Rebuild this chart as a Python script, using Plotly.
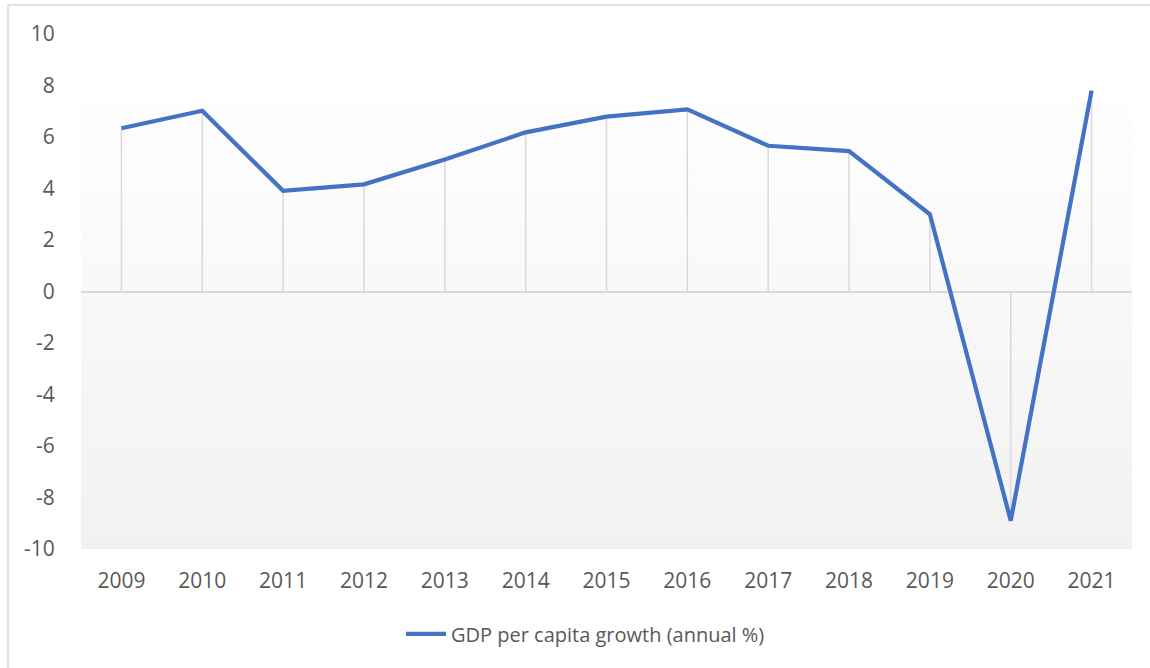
import plotly.graph_objects as go

# GDP per capita growth (annual %)
years = [2009, 2010, 2011, 2012, 2013, 2014, 2015, 2016, 2017, 2018, 2019, 2020, 2021]
growth = [6.34, 7.02, 3.91, 4.16, 5.13, 6.18, 6.79, 7.07, 5.66, 5.45, 3.00, -8.90, 7.80]
y_ticks = [10, 8, 6, 4, 2, 0, -2, -4, -6, -8, -10]
series_name = "GDP per capita growth (annual %)"

LINE_BLUE = "#4472C4"
GRID_GRAY = "#d9d9d9"
TEXT_GRAY = "#595959"
FONT = "Open Sans"

fig = go.Figure()

# vertical drop lines from each point down to zero
drop_x, drop_y = [], []
for yr, v in zip(years, growth):
    drop_x += [yr, yr, None]
    drop_y += [0, v, None]
fig.add_trace(go.Scatter(
    x=drop_x, y=drop_y, mode="lines",
    line=dict(color=GRID_GRAY, width=1.5),
    hoverinfo="skip", showlegend=False,
))

fig.add_trace(go.Scatter(
    x=years, y=growth, mode="lines", name=series_name,
    line=dict(color=LINE_BLUE, width=4.2, shape="linear"),
))

# soft vertical gradient behind the series
shapes = []
top, bottom = 7.37, -10.0
n = 60
c_top, c_bot = 254, 241
for i in range(n):
    y1 = top - (top - bottom) * i / n
    y0 = top - (top - bottom) * (i + 1) / n
    c = round(c_top + (c_bot - c_top) * (i + 0.5) / n)
    shapes.append(dict(
        type="rect", xref="paper", yref="y", x0=0, x1=1, y0=y0, y1=y1,
        fillcolor=f"rgb({c},{c},{c})", line=dict(width=0), layer="below",
    ))

# chart outline
shapes.append(dict(
    type="rect", xref="paper", yref="paper",
    x0=-0.0695, x1=1.2, y0=-0.4, y1=1.0563,
    line=dict(color=GRID_GRAY, width=1.5), fillcolor="rgba(0,0,0,0)", layer="above",
))

fig.update_layout(
    width=1150, height=668,
    margin=dict(l=81, r=18, t=34, b=119),
    paper_bgcolor="white", plot_bgcolor="white",
    font=dict(family=FONT, size=21, color=TEXT_GRAY),
    shapes=shapes,
    showlegend=True,
    legend=dict(
        orientation="h", x=0.48, xanchor="center", y=-0.165, yanchor="middle",
        font=dict(family=FONT, size=20, color=TEXT_GRAY),
        bgcolor="rgba(0,0,0,0)", itemwidth=40,
    ),
    xaxis=dict(
        range=[2008.5, 2021.5], tickmode="array", tickvals=years,
        ticktext=[str(y) for y in years],
        showgrid=False, zeroline=False, showline=False,
        ticks="outside", ticklen=13, tickcolor="rgba(0,0,0,0)",
        tickfont=dict(family=FONT, size=21, color=TEXT_GRAY),
    ),
    yaxis=dict(
        range=[-10, 10], tickmode="array", tickvals=y_ticks,
        ticktext=[str(t) for t in y_ticks],
        showgrid=False, zeroline=True, zerolinecolor=GRID_GRAY, zerolinewidth=1.5,
        showline=False,
        ticks="outside", ticklen=21, tickcolor="rgba(0,0,0,0)",
        tickfont=dict(family=FONT, size=21, color=TEXT_GRAY),
    ),
)

fig.write_html("out.html")
